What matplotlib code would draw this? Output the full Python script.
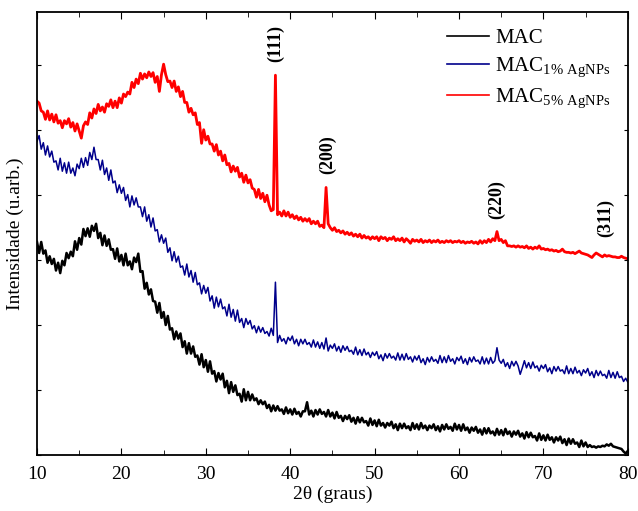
import matplotlib
matplotlib.use("Agg")
import matplotlib.pyplot as plt
import numpy as np

plt.rcParams["font.family"] = ["Liberation Serif", "DejaVu Serif"]
plt.rcParams["mathtext.fontset"] = "custom"
plt.rcParams["mathtext.rm"] = "Liberation Serif"

# 2theta grid (0.25 deg steps, 10..80)
two_theta = np.arange(10, 80.001, 0.25)

# MAC (black)
mac = [
    328, 311, 328, 310, 315, 296, 306, 294, 302, 284, 296, 280, 299, 292, 311, 303, 313, 306, 329, 316,
    334, 324, 348, 337, 349, 336, 353, 345, 356, 334, 342, 323, 338, 322, 332, 316, 317, 302, 318, 298,
    308, 292, 310, 292, 298, 286, 304, 297, 310, 282, 283, 256, 265, 247, 255, 237, 236, 219, 234, 211,
    220, 200, 214, 193, 195, 178, 190, 179, 187, 166, 175, 156, 172, 156, 167, 151, 153, 139, 155, 135,
    146, 128, 144, 125, 129, 113, 126, 116, 125, 104, 114, 95, 112, 97, 107, 92, 94, 82, 101, 84,
    97, 84, 93, 84, 87, 78, 84, 78, 82, 72, 77, 67, 76, 68, 75, 68, 70, 63, 73, 64,
    70, 62, 71, 63, 66, 59, 67, 67, 81, 62, 68, 59, 69, 62, 70, 63, 66, 59, 69, 59,
    65, 56, 66, 57, 60, 52, 60, 55, 61, 51, 57, 48, 58, 50, 57, 50, 52, 45, 56, 46,
    53, 44, 54, 45, 49, 42, 49, 45, 51, 41, 47, 38, 48, 41, 48, 41, 44, 38, 49, 40,
    47, 39, 49, 41, 45, 38, 45, 41, 47, 38, 44, 36, 46, 39, 47, 40, 43, 37, 48, 39,
    46, 37, 47, 38, 42, 34, 42, 37, 43, 34, 39, 31, 41, 33, 41, 33, 36, 30, 40, 31,
    38, 30, 40, 32, 36, 28, 36, 31, 37, 28, 33, 25, 35, 27, 34, 27, 29, 22, 33, 23,
    30, 22, 31, 23, 27, 19, 27, 22, 28, 18, 24, 15, 25, 17, 24, 17, 19, 12, 22, 13,
    19, 12, 15, 12, 13, 11, 13, 12, 14, 13, 16, 14, 17, 13, 12, 11, 10, 9, 5, 2,
    6,
]

# MAC 1% AgNPs (blue)
mac_1 = [
    483, 492, 471, 481, 462, 476, 459, 468, 451, 453, 439, 457, 437, 450, 434, 451, 434, 442, 430, 448,
    441, 457, 443, 458, 446, 466, 455, 474, 455, 455, 439, 454, 432, 442, 423, 439, 419, 422, 404, 416,
    403, 412, 392, 401, 382, 399, 385, 396, 382, 382, 367, 382, 360, 370, 351, 365, 345, 347, 328, 339,
    326, 334, 312, 319, 299, 313, 297, 306, 289, 291, 277, 294, 274, 284, 266, 281, 262, 265, 248, 261,
    249, 258, 237, 245, 226, 243, 228, 240, 225, 228, 214, 232, 212, 224, 206, 223, 204, 210, 196, 210,
    201, 207, 194, 199, 188, 198, 189, 196, 187, 190, 183, 195, 184, 266, 173, 184, 175, 179, 171, 181,
    176, 183, 171, 178, 168, 178, 171, 178, 170, 173, 166, 177, 166, 174, 164, 173, 163, 180, 160, 169,
    164, 171, 160, 167, 158, 168, 161, 167, 159, 161, 155, 166, 154, 162, 153, 163, 154, 158, 150, 158,
    153, 159, 148, 154, 145, 156, 149, 156, 149, 152, 146, 157, 146, 155, 146, 156, 147, 151, 143, 152,
    146, 153, 142, 148, 139, 150, 143, 151, 144, 147, 141, 153, 142, 151, 142, 153, 144, 148, 140, 150,
    145, 152, 141, 148, 139, 150, 143, 151, 144, 146, 140, 151, 140, 149, 140, 150, 141, 145, 165, 146,
    141, 147, 136, 142, 133, 144, 137, 144, 137, 124, 134, 145, 134, 142, 133, 143, 134, 137, 129, 138,
    133, 139, 128, 134, 125, 136, 129, 136, 129, 131, 125, 137, 125, 133, 125, 135, 126, 130, 122, 131,
    126, 133, 122, 128, 119, 130, 122, 129, 122, 124, 118, 130, 119, 127, 118, 128, 119, 121, 113, 118,
    112,
]

# MAC 5% AgNPs (red)
mac_5 = [
    545, 542, 530, 528, 517, 530, 516, 525, 513, 524, 511, 515, 504, 515, 510, 518, 505, 512, 499, 510,
    499, 488, 507, 513, 509, 527, 519, 533, 526, 540, 530, 536, 528, 541, 537, 547, 535, 545, 535, 550,
    542, 556, 552, 559, 556, 574, 566, 579, 572, 588, 579, 587, 581, 590, 583, 589, 574, 583, 560, 586,
    602, 586, 575, 576, 566, 576, 560, 567, 552, 560, 543, 543, 528, 534, 524, 527, 509, 512, 480, 501,
    485, 491, 479, 479, 468, 478, 462, 468, 453, 462, 447, 449, 436, 445, 437, 443, 428, 434, 420, 431,
    419, 424, 411, 409, 397, 409, 395, 403, 390, 400, 385, 376, 378, 585, 370, 374, 368, 376, 368, 374,
    366, 370, 364, 368, 362, 366, 360, 364, 360, 364, 356, 360, 356, 360, 352, 354, 350, 412, 356, 350,
    346, 350, 344, 346, 342, 345, 340, 343, 339, 342, 337, 340, 336, 340, 334, 338, 334, 336, 332, 336,
    333, 336, 330, 336, 333, 335, 330, 334, 332, 336, 330, 333, 330, 334, 328, 333, 330, 326, 332, 329,
    331, 328, 332, 327, 330, 328, 331, 327, 330, 328, 331, 327, 329, 327, 330, 328, 330, 327, 329, 328,
    330, 327, 329, 326, 328, 327, 329, 326, 328, 325, 330, 326, 330, 327, 332, 328, 333, 330, 344, 330,
    332, 327, 330, 322, 322, 321, 322, 320, 322, 320, 321, 319, 322, 318, 320, 317, 320, 318, 322, 317,
    318, 316, 317, 315, 316, 314, 315, 313, 314, 317, 313, 312, 312, 311, 312, 310, 312, 314, 311, 310,
    309, 308, 306, 304, 308, 311, 309, 307, 305, 308, 306, 307, 306, 305, 305, 304, 304, 306, 304, 303,
    302,
]

# peak labels
peak_labels = ["(111)", "(200)", "(220)", "(311)"]
peak_x = [38.3, 44.4, 64.5, 77.4]
peak_y = [634, 462, 394, 365]

fig = plt.figure(figsize=(6.38, 5.11), dpi=100)
ax = fig.add_axes([0.058, 0.110, 0.926, 0.866])

ax.plot(two_theta, mac, color="black", linewidth=1.8, label="MAC")
ax.plot(two_theta, mac_1, color="#00008B", linewidth=1.1,
        label=r"MAC$_{\mathregular{1\%\ AgNPs}}$")
ax.plot(two_theta, mac_5, color="#FF0000", linewidth=2.0,
        label=r"MAC$_{\mathregular{5\%\ AgNPs}}$")

for lab, px, py in zip(peak_labels, peak_x, peak_y):
    ax.text(px, py, lab, rotation=90, ha="center", va="center",
            fontsize=13, fontweight="bold")

ax.set_xlim(10, 80)
ax.set_ylim(0, 682)
ax.set_xticks(np.arange(10, 81, 10))
ax.set_xticks(np.arange(15, 80, 10), minor=True)
ax.set_yticks(np.arange(0, 700, 100))
ax.set_yticklabels([])
ax.tick_params(axis="both", which="both", direction="in", top=True, right=True)
ax.tick_params(axis="x", which="major", length=5, labelsize=14, pad=8)
ax.tick_params(axis="x", which="minor", length=3.5)
ax.tick_params(axis="y", which="major", length=3)
for sp in ax.spines.values():
    sp.set_linewidth(1.3)

ax.set_xlabel("2θ (graus)", fontsize=14, labelpad=2)
ax.set_ylabel("Intensidade (u.arb.)", fontsize=14, labelpad=6)

leg = ax.legend(loc="upper right", bbox_to_anchor=(1.003, 1.005), frameon=False,
                fontsize=15, handlelength=2.0, handletextpad=0.3,
                labelspacing=0.35)
for line in leg.get_lines():
    line.set_linewidth(1.2)

fig.savefig("out.png", dpi=100)
